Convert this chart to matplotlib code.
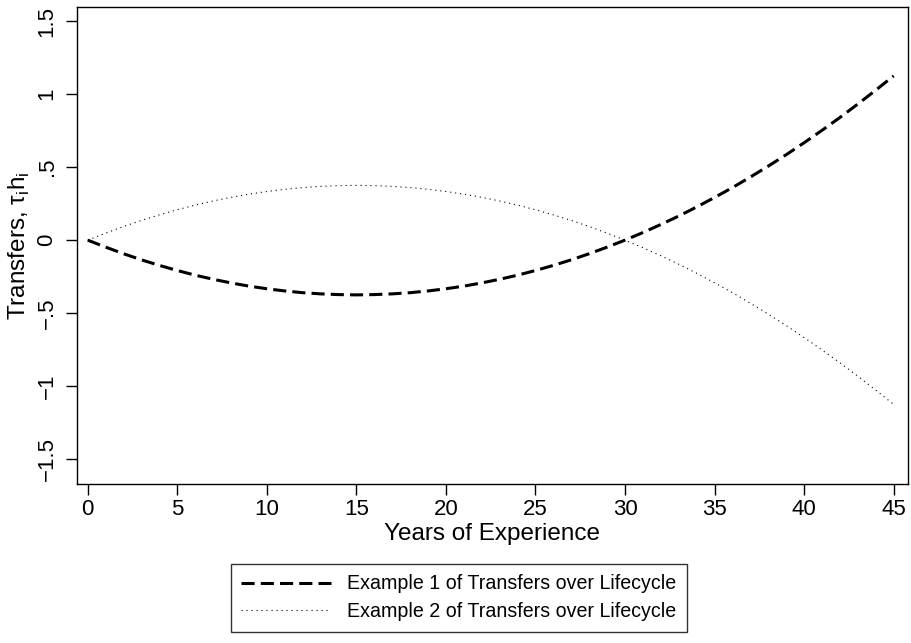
import matplotlib
matplotlib.use("Agg")
import matplotlib.pyplot as plt

plt.rcParams['font.family'] = ['Liberation Sans', 'DejaVu Sans']

years = list(range(46))
example1 = [0.0, -0.048, -0.093, -0.135, -0.173, -0.208, -0.24, -0.268, -0.293, -0.315,
            -0.333, -0.348, -0.36, -0.368, -0.373, -0.375, -0.373, -0.368, -0.36, -0.348,
            -0.333, -0.315, -0.293, -0.268, -0.24, -0.208, -0.173, -0.135, -0.093, -0.048,
            0.0, 0.052, 0.107, 0.165, 0.227, 0.292, 0.36, 0.432, 0.507, 0.585,
            0.667, 0.752, 0.84, 0.932, 1.027, 1.125]
example2 = [0.0, 0.048, 0.093, 0.135, 0.173, 0.208, 0.24, 0.268, 0.293, 0.315,
            0.333, 0.348, 0.36, 0.368, 0.373, 0.375, 0.373, 0.368, 0.36, 0.348,
            0.333, 0.315, 0.293, 0.268, 0.24, 0.208, 0.173, 0.135, 0.093, 0.048,
            0.0, -0.052, -0.107, -0.165, -0.227, -0.292, -0.36, -0.432, -0.507, -0.585,
            -0.667, -0.752, -0.84, -0.932, -1.027, -1.125]
xticks = [0, 5, 10, 15, 20, 25, 30, 35, 40, 45]
yticks = [-1.5, -1, -0.5, 0, 0.5, 1, 1.5]
ytick_labels = ['\u22121.5', '\u22121', '\u2212.5', '0', '.5', '1', '1.5']
labels = ['Example 1 of Transfers over Lifecycle', 'Example 2 of Transfers over Lifecycle']

fig = plt.figure(figsize=(9.12, 6.43), dpi=100)
ax = fig.add_axes([0.0844, 0.2473, 0.9112, 0.7417])

ax.plot(years, example1, color='black', lw=2.2, linestyle=(0, (4.3, 2.0)), label=labels[0])
ax.plot(years, example2, color='black', lw=0.8, linestyle=(0, (1.0, 3.5)), label=labels[1])

ax.set_xlim(-0.6, 45.8)
ax.set_ylim(-1.67, 1.596)
ax.set_xticks(xticks)
ax.set_yticks(yticks)
ax.set_yticklabels(ytick_labels, rotation=90, va='center')
ax.tick_params(direction='out', length=8, width=1, labelsize=16)
ax.tick_params(axis='x', pad=3)
ax.tick_params(axis='y', pad=6)
for s in ax.spines.values():
    s.set_linewidth(1)
ax.set_xlabel('Years of Experience', fontsize=17.5, labelpad=2)
ax.set_ylabel('Transfers, \u03c4$_\\mathregular{i}$h$_\\mathregular{i}$', fontsize=17.5, labelpad=3)

leg = fig.legend(loc='lower center', bbox_to_anchor=(0.503, 0.017), fontsize=14.1,
                 frameon=True, fancybox=False, handlelength=4.6, borderpad=0.55,
                 labelspacing=0.45, handletextpad=0.8, borderaxespad=0)
leg.get_frame().set_edgecolor('black')
leg.get_frame().set_linewidth(1)

fig.savefig('out.png', dpi=100)
